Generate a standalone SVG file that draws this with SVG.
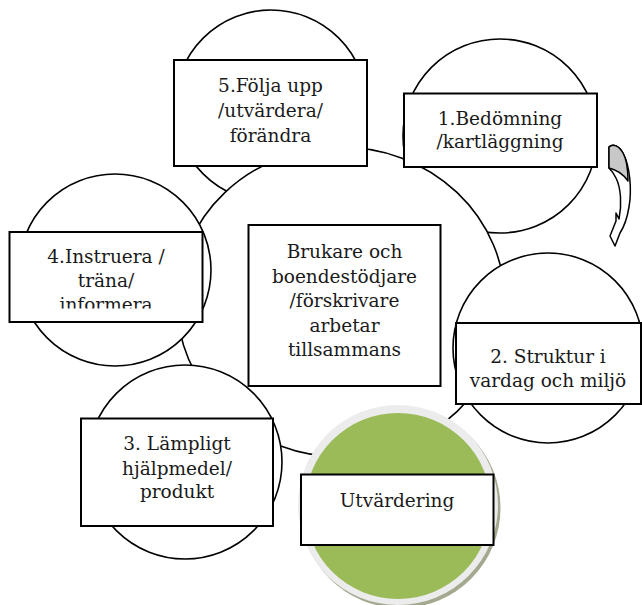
<svg xmlns="http://www.w3.org/2000/svg" width="642" height="605" viewBox="0 0 642 605">
<style>
.c{fill:#fff;stroke:#000;stroke-width:1.6}
.b{fill:#fff;stroke:#000;stroke-width:2}
.t{font-family:"DejaVu Serif","Liberation Serif",serif;font-size:18.5px;fill:#1a1a1a;text-anchor:middle}
</style>
<defs>
<clipPath id="clip4"><rect x="10" y="232" width="192" height="76.5"/></clipPath>
</defs>
<rect width="642" height="605" fill="#fff"/>
<g id="circles">
<circle id="circle5" class="c" cx="271" cy="106" r="96"/>
<circle id="circle1" class="c" cx="500" cy="136" r="97"/>
<ellipse id="center-circle" class="c" cx="341" cy="302" rx="164" ry="155"/>
<circle id="circle4" class="c" cx="115" cy="270" r="96"/>
<circle id="circle3" class="c" cx="185" cy="462" r="97"/>
<circle id="circle2" class="c" cx="548" cy="348" r="95"/>
<g id="green-circle">
<circle cx="400.5" cy="508" r="100" fill="#a3a98e"/>
<circle cx="398" cy="505" r="100" fill="#ececec"/>
<circle cx="398" cy="506" r="93" fill="#9bbb59"/>
</g>
</g>
<g id="node5">
<rect class="b" x="174" y="60" width="193" height="106"/>
<text class="t" x="270.5" y="91.7">5.Följa upp</text>
<text class="t" x="270.5" y="116.7">/utvärdera/</text>
<text class="t" x="270.5" y="141.7">förändra</text>
</g>
<g id="node1">
<rect class="b" x="404" y="93.5" width="193" height="73.5"/>
<text class="t" x="500" y="125">1.Bedömning</text>
<text class="t" x="500" y="148.3">/kartläggning</text>
</g>
<g id="node4">
<rect class="b" x="9.5" y="232" width="193" height="90"/>
<g clip-path="url(#clip4)">
<text class="t" x="106" y="262.7">4.Instruera /</text>
<text class="t" x="106" y="286.7">träna/</text>
<text class="t" x="106" y="311">informera</text>
</g>
</g>
<g id="node-center">
<rect class="b" x="248.5" y="225" width="192" height="161"/>
<text class="t" x="344.5" y="258">Brukare och</text>
<text class="t" x="344.5" y="282.5">boendestödjare</text>
<text class="t" x="344.5" y="307">/förskrivare</text>
<text class="t" x="344.5" y="331.5">arbetar</text>
<text class="t" x="344.5" y="356">tillsammans</text>
</g>
<g id="node2">
<rect class="b" x="456" y="323" width="185" height="81"/>
<text class="t" x="548" y="363.3">2. Struktur i</text>
<text class="t" x="548" y="386.7">vardag och miljö</text>
</g>
<g id="node3">
<rect class="b" x="81" y="418.5" width="192" height="107.5"/>
<text class="t" x="177" y="450">3. Lämpligt</text>
<text class="t" x="177" y="475">hjälpmedel/</text>
<text class="t" x="177" y="498.3">produkt</text>
</g>
<g id="node-utvardering">
<rect class="b" x="301" y="474.5" width="192.5" height="70.5"/>
<text class="t" x="397" y="506.7">Utvärdering</text>
</g>
<g id="connectors">
<path d="M609,147 C613,143 619,146 623,153 C630,166 632,190 629,207 C627,219 624,227 620,233 L615,246 L610,236 L616,221 L616,213 L619,219 C622,205 621,188 616,178 C614,174 611,170 609,168 Z" fill="#fff" stroke="#000" stroke-width="1.5" stroke-linejoin="round"/>
<path d="M609,147 C613,143 619,146 623,153 C627,160 628,170 628,181 C624,175 617,170 609,168 Z" fill="#c8c8c8" stroke="#000" stroke-width="1.5" stroke-linejoin="round"/>
</g>
</svg>
